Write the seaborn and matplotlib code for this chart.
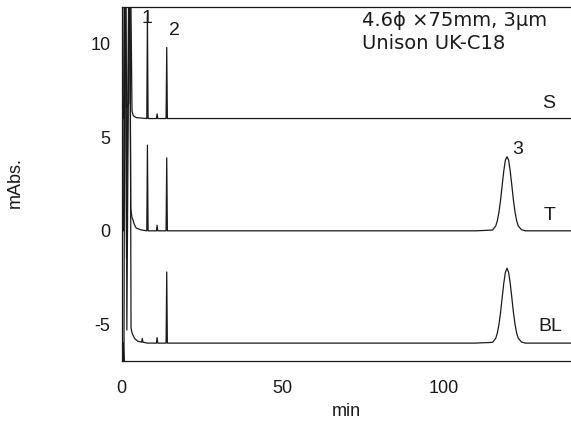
import matplotlib
matplotlib.use("Agg")
import matplotlib.pyplot as plt
import seaborn as sns
import pandas as pd

# ---- data (time in min, signal in mAbs) ----
s_time = [0.0, 0.6, 0.9, 1.2, 1.5, 2.2, 2.5, 2.8, 3.2, 3.6, 4.5,
          7.8, 8.0, 8.2, 10.8, 11.0, 11.2, 13.8, 14.0, 14.2, 40.0, 139.7]
s_mabs = [6.0, 6.0, 13.5, 13.5, 6.6, 6.8, 13.5, 13.5, 6.4, 6.15, 6.05,
          6.0, 11.5, 6.0, 6.0, 6.25, 6.0, 6.0, 9.8, 6.0, 6.0, 6.0]

t_time = [0.0, 0.6, 0.8, 1.1, 1.5, 2.2, 2.5, 2.8, 3.2, 3.5, 3.9, 4.5, 6.0,
          7.8, 8.0, 8.2, 10.8, 11.0, 11.2, 13.8, 14.0, 14.2,
          110.0, 115.3, 116.3, 116.8, 117.3, 117.8, 118.3, 118.8, 119.3, 119.8,
          120.3, 120.8, 121.3, 121.8, 122.3, 122.8, 123.3, 124.3, 125.5, 139.7]
t_mabs = [0.0, 0.0, 13.5, 13.5, -1.5, 13.5, 13.5, 1.2, 0.7, 0.6, 0.35, 0.15, 0.05,
          0.0, 4.58, 0.0, 0.0, 0.3, 0.0, 0.0, 3.9, 0.0,
          0.0, 0.04, 0.26, 0.54, 1.0, 1.64, 2.43, 3.2, 3.78, 3.96,
          3.78, 3.2, 2.43, 1.64, 1.0, 0.54, 0.26, 0.06, 0.0, 0.0]

bl_time = [0.0, 0.5, 0.7, 1.0, 1.3, 1.6, 2.3, 2.6, 2.9, 3.3, 4.0, 5.0, 6.2,
           6.4, 6.6, 8.0, 10.8, 11.0, 11.2, 13.8, 14.0, 14.2,
           110.0, 115.3, 116.3, 116.8, 117.3, 117.8, 118.3, 118.8, 119.3, 119.8,
           120.3, 120.8, 121.3, 121.8, 122.3, 122.8, 123.3, 124.3, 125.5, 139.7]
bl_mabs = [-6.0, -6.0, -7.3, 13.5, 13.5, -5.3, 13.5, 13.5, -5.2, -5.5, -5.75, -5.9, -5.95,
           -5.75, -5.95, -6.0, -6.0, -5.7, -6.0, -6.0, -2.2, -6.0,
           -6.0, -5.96, -5.74, -5.46, -5.0, -4.36, -3.57, -2.8, -2.22, -2.0,
           -2.22, -2.8, -3.57, -4.36, -5.0, -5.46, -5.74, -5.94, -6.0, -6.0]

trace_names = ["S", "T", "BL"]
peak_labels = ["1", "2", "3"]
column_lines = ["4.6\u03d5 \u00d775mm, 3\u00b5m", "Unison UK-C18"]
x_ticks = [0, 50, 100]
y_ticks = [-5, 0, 5, 10]

frames = []
for name, tt, yy in zip(trace_names, [s_time, t_time, bl_time], [s_mabs, t_mabs, bl_mabs]):
    frames.append(pd.DataFrame({"min": tt, "mAbs.": yy, "trace": name}))
df = pd.concat(frames, ignore_index=True)

sns.set_theme(style="white")
plt.rcParams["font.family"] = ["Liberation Sans", "DejaVu Sans"]
INK = "#1a1a1a"

fig = plt.figure(figsize=(5.71, 4.25), dpi=100)
ax = fig.add_axes([121.7 / 571, (425 - 360.7) / 425, 1 - 121.7 / 571, (360.7 - 7) / 425])

for name in trace_names:
    sns.lineplot(data=df[df["trace"] == name], x="min", y="mAbs.", sort=False,
                 estimator=None, color=INK, linewidth=0.9, ax=ax, legend=False)

ax.set_xlim(0, 139.7)
ax.set_ylim(-6.94, 11.96)
ax.set_xticks(x_ticks)
ax.set_yticks(y_ticks)
ax.tick_params(axis="x", direction="in", length=4, width=0.8, labelsize=13, pad=14, colors=INK)
ax.tick_params(axis="y", direction="out", length=5, width=0.8, labelsize=13, pad=3, colors=INK)
ax.set_xticklabels([str(v) for v in x_ticks], color=INK)
ax.set_yticklabels([str(v) for v in y_ticks], color=INK)
for side in ["left", "bottom", "top"]:
    ax.spines[side].set_color(INK)
    ax.spines[side].set_linewidth(0.9)
ax.spines["right"].set_visible(False)

ax.set_xlabel("min", fontsize=13, color=INK, labelpad=4)
ax.set_ylabel("mAbs.", fontsize=13, color=INK)
ax.yaxis.set_label_coords(-(121.7 - 24) / (571 - 121.7), (360.7 - 183) / (360.7 - 7))

txt_kw = dict(fontsize=14, color=INK)
ax.text(132.7, 6.83, trace_names[0], ha="center", va="center", **txt_kw)
ax.text(133.0, 0.84, trace_names[1], ha="center", va="center", **txt_kw)
ax.text(133.4, -5.09, trace_names[2], ha="center", va="center", **txt_kw)
ax.text(7.8, 11.37, peak_labels[0], ha="center", va="center", **txt_kw)
ax.text(16.5, 10.73, peak_labels[1], ha="center", va="center", **txt_kw)
ax.text(123.0, 4.32, peak_labels[2], ha="center", va="center", **txt_kw)
ax.text(74.6, 11.26, column_lines[0], ha="left", va="center", fontsize=14,
        color=INK, family=["DejaVu Sans"])
ax.text(74.6, 10.03, column_lines[1], ha="left", va="center", fontsize=14,
        color=INK, family=["DejaVu Sans"])

fig.savefig("out.png", dpi=100)
